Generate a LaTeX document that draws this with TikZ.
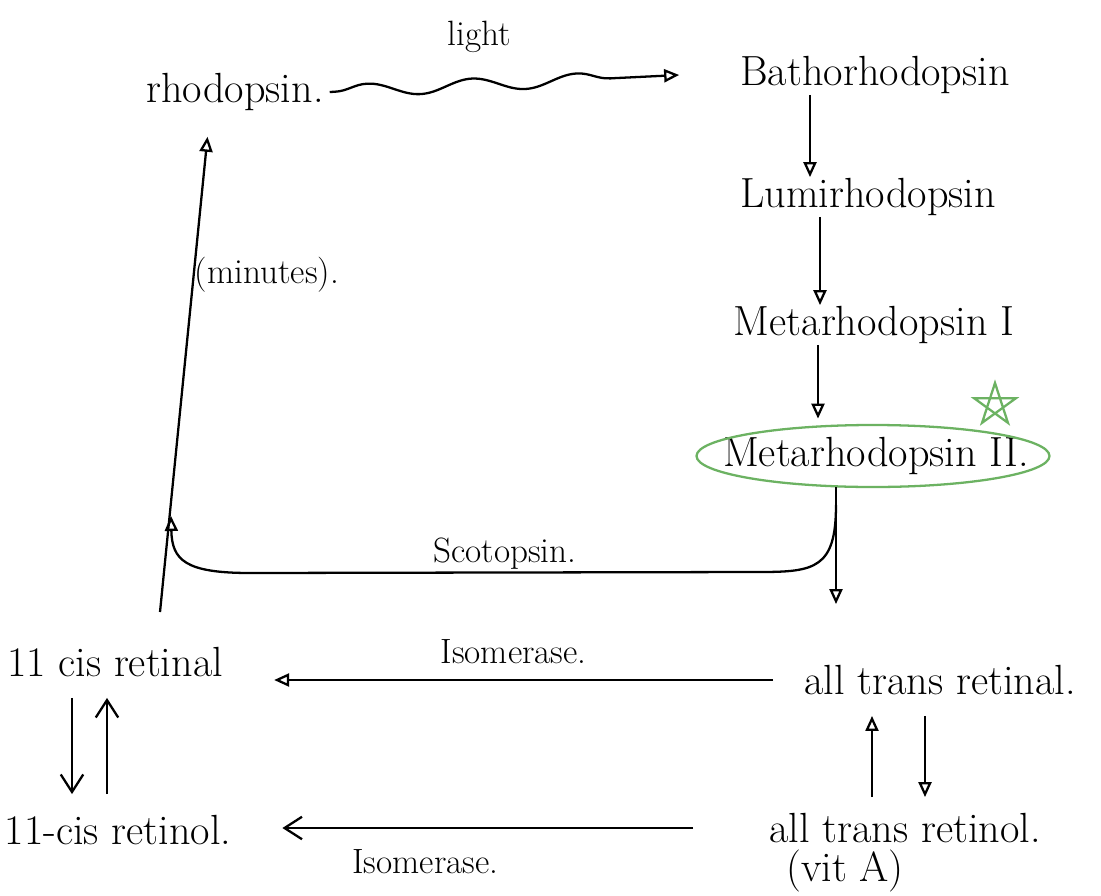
\documentclass[tikz,border=0pt]{standalone}
\usetikzlibrary{arrows.meta,positioning,shapes.geometric,decorations.pathmorphing}
\definecolor{hl}{RGB}{108,178,98}
\tikzset{
  txt/.style={font=\fontsize{24}{28}\selectfont, inner sep=0pt},
  lab/.style={font=\fontsize{20}{24}\selectfont, inner sep=0pt},
  tri/.style={-{Triangle[open,length=3mm,width=2.6mm]}},
  barb/.style={-{Straight Barb[length=3.5mm,width=4.5mm]}},
}

\begin{document}
\begin{tikzpicture}[x=0.2mm,y=-0.2mm,line width=1.3pt]
        \useasboundingbox (0,0) rectangle (1101,896);

        % pigments
        \node[txt] at (235,92) (rho) {rhodopsin.};
        \node[txt] at (875,75) (batho) {Bathorhodopsin};
        \node[txt] at (868,197) (lumi) {Lumirhodopsin};
        \node[txt] at (874,325) (metaI) {Metarhodopsin I};
        \node[txt] at (876,456) (metaII) {Metarhodopsin II.};
        \draw[hl] (873,456) ellipse [x radius=35.3mm, y radius=6.2mm];
        \draw[hl, shift={(995,405)}] (270:22) -- (54:22) -- (198:22) -- (342:22) -- (126:22) -- cycle;

        % retinal / retinol
        \node[txt] at (115,662) (cral) {11 cis retinal};
        \node[txt] at (940,680) (atral) {all trans retinal.};
        \node[txt] at (118,830) (crol) {11-cis retinol.};
        \node[txt] at (905,828) (atrol) {all trans retinol.};
        \node[txt, below=1mm of atrol, xshift=-12mm] (vit) {(vit A)};

        \coordinate (j1) at (836,505);
        \coordinate (j2) at (171,516);

        \draw[tri, decorate, decoration={snake, amplitude=1.3mm, segment length=21mm, pre length=1mm, post length=4mm}]
            ([xshift=1mm]rho.east) -- ([xshift=-12mm]batho.west) node [midway, above=6mm, xshift=-5mm, lab] (l) {light};
        \draw[tri] (batho.south -| 810,0) -- (lumi.north -| 810,0);
        \draw[tri] (lumi.south -| 820,0) -- (metaI.north -| 820,0);
        \draw[tri, shorten >=3.5mm] (metaI.south -| 818,0) -- (metaII.north -| 818,0);
        \draw[tri, shorten >=12mm] (836,487) -- (atral.north -| 836,0);
        \draw[tri] (j1) .. controls (836,568) and (815,572) .. (760,572)
            -- node [midway, above=0.5mm, lab] (s) {Scotopsin.} (250,573)
            .. controls (185,573) and (172,560) .. (j2);
        \draw[tri, shorten >=5mm] (160,612) -- (rho.south -| 210,0)
            node [pos=0.675, right=0mm, lab] (m) {(minutes).};

        \draw[tri, shorten <=6mm, shorten >=10mm] (atral.west) -- (cral.east |- atral.west)
            node [midway, above=3mm, lab] (i1) {Isomerase.};
        \draw[barb, shorten <=15mm, shorten >=10mm] (atrol.west) -- (crol.east |- atrol.west)
            node [pos=0.64, below=4mm, lab] (i2) {Isomerase.};

        \draw[tri, shorten <=3mm, shorten >=4mm] (atrol.north -| 872,0) -- (atral.south -| 872,0);
        \draw[tri, shorten <=4mm, shorten >=3mm] (atral.south -| 925,0) -- (atrol.north -| 925,0);
        \draw[barb, shorten <=4mm, shorten >=4mm] (cral.south -| 72,0) -- (crol.north -| 72,0);
        \draw[barb, shorten <=4mm, shorten >=4mm] (crol.north -| 107,0) -- (cral.south -| 107,0);
    \end{tikzpicture}
\end{document}
